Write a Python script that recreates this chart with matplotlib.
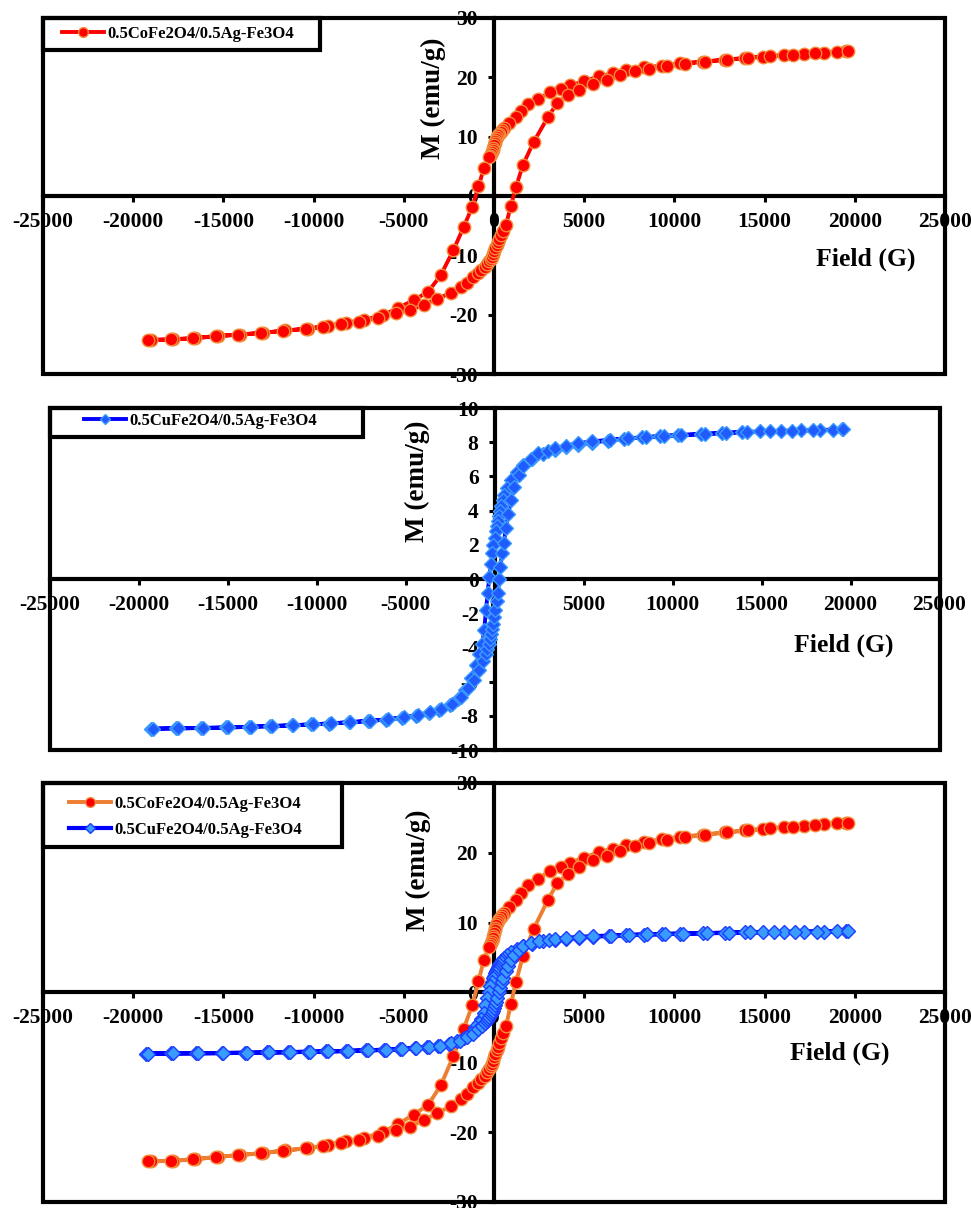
import matplotlib.pyplot as plt
from matplotlib.patches import Rectangle
from matplotlib.lines import Line2D
import numpy as np

plt.rcParams['font.family'] = 'Liberation Serif'
plt.rcParams['font.weight'] = 'bold'
plt.rcParams['axes.unicode_minus'] = False

# 0.5CoFe2O4/0.5Ag-Fe3O4 loop (field in G, M in emu/g)
co_field_desc = [19500, 18300, 17200, 16100, 14900, 13900, 12800, 11600, 10300, 9300,
                 8300, 7300, 6600, 5800, 5000, 4200, 3700, 3100, 2460, 1900,
                 1480, 1200, 830, 560, 450, 370, 300, 240, 180, 130,
                 80, 40, 0, -40, -80, -130, -180, -230, -280, -560,
                 -860, -1200, -1680, -2250, -2950, -3650, -4450, -5300, -6150, -7200,
                 -8200, -9200, -10300, -11600, -12800, -14100, -15300, -16600, -17800, -19000]
co_m_desc = [24.3, 24.1, 23.9, 23.7, 23.4, 23.2, 22.9, 22.6, 22.3, 21.9,
             21.6, 21.1, 20.6, 20.1, 19.3, 18.6, 18.0, 17.4, 16.3, 15.4,
             14.3, 13.3, 12.3, 11.4, 11.1, 10.8, 10.5, 10.2, 9.9, 9.6,
             9.2, 8.9, 8.5, 8.1, 7.8, 7.4, 7.1, 6.8, 6.5, 4.7,
             1.6, -1.8, -5.2, -9.1, -13.3, -16.1, -17.5, -18.8, -20.0, -20.8,
             -21.3, -21.8, -22.3, -22.6, -23.0, -23.3, -23.5, -23.9, -24.1, -24.2]
co_field_asc = [-19200, -17900, -16700, -15400, -14200, -12900, -11700, -10400, -9500, -8500,
                -7500, -6450, -5450, -4670, -3900, -3170, -2390, -1830, -1500, -1170,
                -900, -700, -520, -380, -260, -170, -100, -40, 20, 80,
                150, 220, 300, 400, 500, 670, 940, 1220, 1600, 2200,
                3000, 3500, 4100, 4700, 5500, 6260, 7000, 7800, 8600, 9600,
                10600, 11700, 12900, 14100, 15300, 16600, 17800, 19000, 19600]
co_m_asc = [-24.2, -24.1, -23.9, -23.6, -23.3, -23.0, -22.7, -22.3, -22.0, -21.5,
            -21.1, -20.5, -19.7, -19.2, -18.3, -17.3, -16.3, -15.3, -14.6, -13.6,
            -12.9, -12.4, -11.9, -11.4, -11.0, -10.6, -10.2, -9.8, -9.3, -8.8,
            -8.3, -7.8, -7.2, -6.5, -5.8, -4.8, -1.6, 1.5, 5.2, 9.1,
            13.3, 15.6, 17.0, 17.9, 18.9, 19.5, 20.3, 21.0, 21.4, 21.8,
            22.2, 22.6, 22.9, 23.2, 23.5, 23.7, 24.0, 24.2, 24.3]

# 0.5CuFe2O4/0.5Ag-Fe3O4 loop
cu_field_desc = [19500, 18300, 17200, 16100, 14900, 13900, 12800, 11600, 10300, 9300,
                 8300, 7300, 6400, 5500, 4700, 4000, 3400, 2700, 2100, 1600,
                 1250, 950, 700, 550, 450, 370, 300, 240, 180, 120,
                 60, 0, -60, -130, -200, -300, -380, -480, -580, -700,
                 -850, -1050, -1300, -1650, -2050, -2500, -3100, -3700, -4400, -5200,
                 -6100, -7100, -8200, -9300, -10300, -11400, -12600, -13800, -15100, -16500,
                 -17900, -19300]
cu_m_desc = [8.75, 8.72, 8.70, 8.67, 8.63, 8.60, 8.55, 8.48, 8.42, 8.36,
             8.28, 8.20, 8.10, 7.98, 7.85, 7.70, 7.55, 7.30, 7.00, 6.65,
             6.25, 5.80, 5.30, 4.90, 4.60, 4.30, 4.00, 3.70, 3.40, 3.10,
             2.80, 2.40, 2.00, 1.50, 0.90, 0.10, -0.80, -1.80, -3.00, -3.80,
             -4.40, -5.00, -5.80, -6.50, -7.00, -7.35, -7.65, -7.85, -8.00, -8.12,
             -8.22, -8.30, -8.38, -8.45, -8.50, -8.55, -8.60, -8.64, -8.68, -8.71,
             -8.73, -8.75]
cu_field_asc = [-19200, -17800, -16400, -15000, -13700, -12500, -11300, -10200, -9200, -8100,
                -7000, -6000, -5100, -4300, -3600, -3000, -2400, -1900, -1500, -1150,
                -880, -650, -500, -400, -320, -250, -190, -130, -70, -10,
                50, 120, 190, 260, 330, 420, 520, 640, 770, 920,
                1100, 1370, 1590, 2030, 2470, 3030, 3400, 4000, 4700, 5500,
                6500, 7500, 8500, 9500, 10500, 11800, 13000, 14200, 15500, 16700,
                17900, 19000, 19600]
cu_m_asc = [-8.75, -8.73, -8.71, -8.68, -8.64, -8.60, -8.55, -8.50, -8.44, -8.37,
            -8.29, -8.20, -8.08, -7.95, -7.80, -7.60, -7.30, -6.90, -6.40, -5.90,
            -5.30, -4.80, -4.40, -4.10, -3.80, -3.50, -3.20, -2.90, -2.60, -2.20,
            -1.80, -1.30, -0.80, 0.00, 0.70, 1.50, 2.10, 3.00, 3.80, 4.60,
            5.40, 6.10, 6.60, 7.05, 7.35, 7.50, 7.65, 7.80, 7.95, 8.05,
            8.15, 8.23, 8.30, 8.36, 8.42, 8.48, 8.54, 8.59, 8.63, 8.67,
            8.70, 8.73, 8.76]

co_field = co_field_desc + co_field_asc
co_m = co_m_desc + co_m_asc
cu_field = cu_field_desc + cu_field_asc
cu_m = cu_m_desc + cu_m_asc

co_label = '0.5CoFe2O4/0.5Ag-Fe3O4'
cu_label = '0.5CuFe2O4/0.5Ag-Fe3O4'
x_ticks = list(range(-25000, 25001, 5000))


def setup(ax, ymax, ystep):
    ax.set_xlim(-25000, 25000)
    ax.set_ylim(-ymax, ymax)
    ax.set_xticks(x_ticks)
    ax.set_xticklabels([str(v) for v in x_ticks])
    yt = list(range(-ymax, ymax + 1, ystep))
    ax.set_yticks(yt)
    ax.set_yticklabels([str(v) for v in yt])
    for s in ['top', 'right']:
        ax.spines[s].set_visible(False)
    ax.spines['left'].set_position(('data', 0))
    ax.spines['bottom'].set_position(('data', 0))
    ax.spines['left'].set_linewidth(3)
    ax.spines['bottom'].set_linewidth(3)
    ax.tick_params(axis='both', direction='out', width=2.2, length=4.5,
                   labelsize=15.5, pad=7)
    ax.add_patch(Rectangle((0, 0), 1, 1, transform=ax.transAxes, fill=False,
                           lw=3, ec='black', clip_on=False, zorder=6))


def legend_box(ax, w, h, handles, x, y):
    ax.add_patch(Rectangle((0, 1 - h), w, h, transform=ax.transAxes, fc='white',
                           ec='black', lw=3, clip_on=False, zorder=4.5))
    ax.legend(handles=handles, loc='center left', bbox_to_anchor=(x, y),
              frameon=False, handlelength=2.5, handletextpad=0.2, borderpad=0,
              borderaxespad=0, labelspacing=0.6,
              prop={'family': 'Liberation Serif', 'weight': 'bold', 'size': 12})


fig = plt.figure(figsize=(9.71, 12.08), dpi=100)

# Panel 1: Co sample
ax1 = fig.add_axes([0.0443, 0.6900, 0.9289, 0.2955])
setup(ax1, 30, 10)
ax1.plot(co_field, co_m, '-o', color='#FF0000', lw=2.8, ms=9,
         mfc='#FF0000', mec='#F28C3A', mew=1, zorder=3)
ax1.text(-3380, 16.5, 'M (emu/g)', rotation=90, ha='center', va='center', fontsize=19.5)
ax1.text(20620, -10.6, 'Field (G)', ha='center', va='center', fontsize=18.5)
legend_box(ax1, 0.307, 0.091,
           [Line2D([], [], color='#FF0000', lw=2.8, marker='o', ms=7,
                   mfc='#FF0000', mec='#F28C3A', label=co_label)],
           0.021, 0.954)

# Panel 2: Cu sample
ax2 = fig.add_axes([0.0510, 0.3791, 0.9166, 0.2831])
setup(ax2, 10, 2)
ax2.plot(cu_field, cu_m, '-D', color='#0000FF', lw=2.8, ms=6.8,
         mfc='#1F5BFF', mec='#3D9BFF', mew=1, zorder=3)
ax2.text(-4330, 5.7, 'M (emu/g)', rotation=90, ha='center', va='center', fontsize=19.5)
ax2.text(19600, -3.9, 'Field (G)', ha='center', va='center', fontsize=18.5)
legend_box(ax2, 0.352, 0.085,
           [Line2D([], [], color='#0000FF', lw=2.8, marker='D', ms=5,
                   mfc='#1F5BFF', mec='#3D9BFF', label=cu_label)],
           0.039, 0.962)

# Panel 3: comparison
ax3 = fig.add_axes([0.0443, 0.0050, 0.9289, 0.3469])
setup(ax3, 30, 10)
ax3.plot(co_field, co_m, '-o', color='#ED7D31', lw=2.8, ms=9,
         mfc='#FF0000', mec='#F28C3A', mew=1, zorder=3)
ax3.plot(cu_field, cu_m, '-D', color='#0000FF', lw=3, ms=6.8,
         mfc='#3A9BFF', mec='#1A3DFF', mew=1, zorder=3.5)
ax3.text(-4210, 17.5, 'M (emu/g)', rotation=90, ha='center', va='center', fontsize=19.5)
ax3.text(19180, -8.7, 'Field (G)', ha='center', va='center', fontsize=18.5)
legend_box(ax3, 0.331, 0.153,
           [Line2D([], [], color='#ED7D31', lw=2.8, marker='o', ms=7,
                   mfc='#FF0000', mec='#F28C3A', label=co_label),
            Line2D([], [], color='#0000FF', lw=3, marker='D', ms=5,
                   mfc='#3A9BFF', mec='#1A3DFF', label=cu_label)],
           0.029, 0.919)

fig.savefig('out.png', dpi=100)
